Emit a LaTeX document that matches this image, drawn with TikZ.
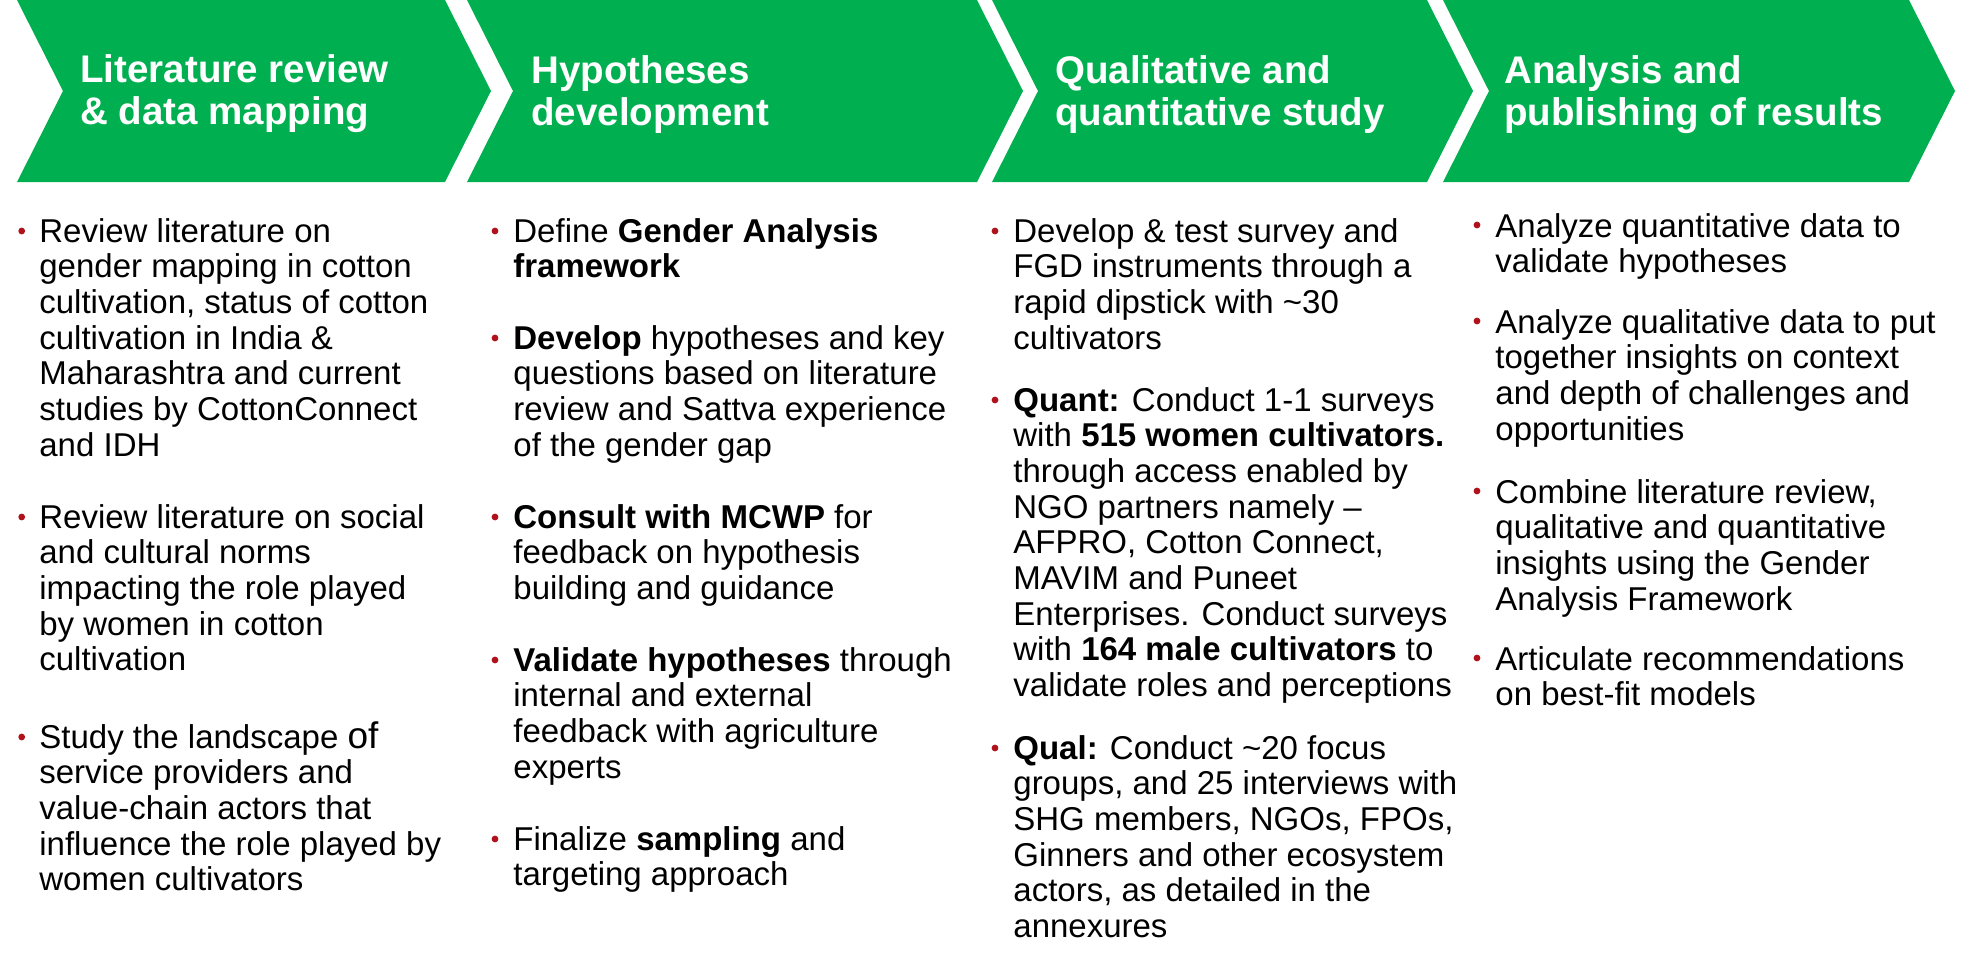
\documentclass[tikz,border=0pt]{standalone}
\usepackage{fontspec}
\setmainfont{Liberation Sans}
\definecolor{chev}{RGB}{0,176,80}
\definecolor{dotred}{RGB}{176,18,28}
\newcommand{\stk}[1]{\begin{tabular}[t]{@{}l@{}}#1\end{tabular}}
\begin{document}
\begin{tikzpicture}[x=0.5pt,y=-0.5pt,
  chevron/.style={fill=chev, draw=none},
  head/.style={anchor=base west, inner sep=0pt, text=white,
    font=\fontsize{19.25}{21}\selectfont\bfseries},
  body/.style={anchor=base west, inner sep=0pt, text=black,
    font=\fontsize{16.5}{17.85}\selectfont},
  bul/.style={circle, fill=dotred, draw=none, inner sep=0pt, minimum size=3.4pt}
]
\useasboundingbox (0,0) rectangle (1970,969);

% chevrons
\fill[chevron] (17,0) -- (445,0) -- (491,91) -- (445,182) -- (17,182) -- (63,91) -- cycle;
\fill[chevron] (467,0) -- (977,0) -- (1023,91) -- (977,182) -- (467,182) -- (513,91) -- cycle;
\fill[chevron] (992,0) -- (1427,0) -- (1473,91) -- (1427,182) -- (992,182) -- (1038,91) -- cycle;
\fill[chevron] (1443,0) -- (1909,0) -- (1955,91) -- (1909,182) -- (1443,182) -- (1489,91) -- cycle;

% headers
\node[head] (h1) at (80,82) {\stk{Literature review\\ \& data mapping}};
\node[head] (h2) at (531,83) {\stk{Hypotheses\\ development}};
\node[head] (h3) at (1055,83) {\stk{Qualitative and\\ quantitative study}};
\node[head] (h4) at (1504,83) {\stk{Analysis and\\ publishing of results}};

% column 1
\node[bul] (d11) at (21.7,231) {};
\node[body] (t11) at (39,242) {\stk{Review literature on\\ gender mapping in cotton\\ cultivation, status of cotton\\ cultivation in India \&\\ Maharashtra and current\\ studies by CottonConnect\\ and IDH}};
\node[bul] (d12) at (21.7,517) {};
\node[body] (t12) at (39,528) {\stk{Review literature on social\\ and cultural norms\\ impacting the role played\\ by women in cotton\\ cultivation}};
\node[bul] (d13) at (21.7,737) {};
\node[body] (t13) at (39,748) {\stk{Study the landscape {\fontsize{18.5}{17.85}\selectfont of}\\ service providers and\\ value-chain actors that\\ influence the role played by\\ women cultivators}};

% column 2
\node[bul] (d21) at (495,231) {};
\node[body] (t21) at (513,242) {\stk{Define \textbf{Gender Analysis}\\ \textbf{framework}}};
\node[bul] (d22) at (495,338) {};
\node[body] (t22) at (513,349) {\stk{\textbf{Develop} hypotheses and key\\ questions based on literature\\ review and Sattva experience\\ of the gender gap}};
\node[bul] (d23) at (495,517) {};
\node[body] (t23) at (513,528) {\stk{\textbf{Consult with MCWP} for\\ feedback on hypothesis\\ building and guidance}};
\node[bul] (d24) at (495,660) {};
\node[body] (t24) at (513,671) {\stk{\textbf{Validate hypotheses} through\\ internal and external\\ feedback with agriculture\\ experts}};
\node[bul] (d25) at (495,839) {};
\node[body] (t25) at (513,850) {\stk{Finalize \textbf{sampling} and\\ targeting approach}};

% column 3
\node[bul] (d31) at (995,231) {};
\node[body] (t31) at (1013,242) {\stk{Develop \& test survey and\\ FGD instruments through a\\ rapid dipstick with \textasciitilde30\\ cultivators}};
\node[bul] (d32) at (995,400) {};
\node[body] (t32) at (1013,411) {\stk{\textbf{Quant:} Conduct 1-1 surveys\\ with \textbf{515 women cultivators.}\\ through access enabled by\\ NGO partners namely --\\ AFPRO, Cotton Connect,\\ MAVIM and Puneet\\ Enterprises. Conduct surveys\\ with \textbf{164 male cultivators} to\\ validate roles and perceptions}};
\node[bul] (d33) at (995,748) {};
\node[body] (t33) at (1013,759) {\stk{\textbf{Qual:} Conduct \textasciitilde20 focus\\ groups, and 25 interviews with\\ SHG members, NGOs, FPOs,\\ Ginners and other ecosystem\\ actors, as detailed in the\\ annexures}};

% column 4
\node[bul] (d41) at (1477,225) {};
\node[body] (t41) at (1495,237) {\stk{Analyze quantitative data to\\ validate hypotheses}};
\node[bul] (d42) at (1477,321) {};
\node[body] (t42) at (1495,333) {\stk{Analyze qualitative data to put\\ together insights on context\\ and depth of challenges and\\ opportunities}};
\node[bul] (d43) at (1477,491) {};
\node[body] (t43) at (1495,503) {\stk{Combine literature review,\\ qualitative and quantitative\\ insights using the Gender\\ Analysis Framework}};
\node[bul] (d44) at (1477,658) {};
\node[body] (t44) at (1495,670) {\stk{Articulate recommendations\\ on best-fit models}};
\end{tikzpicture}
\end{document}
